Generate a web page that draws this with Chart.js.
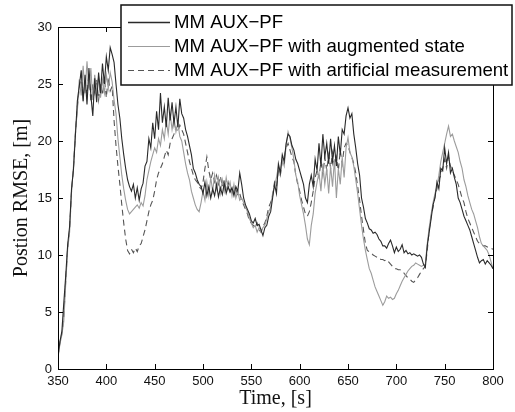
<!DOCTYPE html>
<html>
<head>
<meta charset="utf-8">
<script src="https://cdn.jsdelivr.net/npm/chart.js@4"></script>
<style>
  html, body { margin: 0; padding: 0; background: #fff; }
  #wrap { width: 515px; height: 412px; }
</style>
</head>
<body>
<div id="wrap"><canvas id="rmseChart" width="515" height="412"></canvas></div>
<script>
// time grid, 2 s step from 350 to 800
const times = Array.from({ length: 226 }, (_, i) => 350 + 2 * i);

// MM AUX−PF (dark solid)
const rmseBase = [
  1.2, 2.4, 3.3, 5.8, 8.2, 10.9, 12.5, 15.8, 17.5, 20.5,
  23.5, 24.8, 26.2, 23.5, 25.8, 23.2, 26.4, 24.0, 22.2, 25.5,
  23.4, 26.0, 24.2, 26.8, 25.0, 27.4, 26.2, 28.2, 27.6, 26.9,
  25.0, 23.2, 22.0, 20.2, 18.8, 17.6, 16.6, 16.0, 15.6, 16.2,
  15.0, 15.9, 14.8, 15.8, 16.3, 17.8, 18.2, 20.2, 19.4, 21.6,
  20.2, 22.6, 21.0, 24.2, 21.6, 23.0, 21.2, 23.8, 21.8, 23.4,
  21.5, 23.0, 21.2, 23.7, 22.4, 22.0, 21.0, 20.4, 19.6, 18.8,
  17.6, 17.2, 16.6, 16.2, 16.0, 15.4, 16.4, 15.2, 16.0, 15.0,
  15.8, 15.2, 16.2, 15.1, 15.9, 15.3, 16.3, 15.4, 16.0, 15.5,
  15.9, 15.2, 16.0, 15.6, 17.2, 16.2, 15.0, 14.4, 14.0, 13.6,
  13.0, 12.8, 13.2, 12.6, 12.7, 12.2, 11.7, 12.4, 12.6, 13.4,
  13.8, 15.0, 16.2, 15.4, 18.0, 17.2, 18.8, 18.2, 19.8, 20.6,
  20.4, 19.6, 19.2, 18.4, 18.0, 17.4, 16.8, 16.2, 15.0, 14.6,
  16.2, 17.0, 16.0, 18.4, 17.4, 19.8, 17.8, 20.6, 18.6, 19.8,
  18.0, 20.2, 18.2, 19.6, 17.8, 20.4, 18.8, 21.0, 20.6, 22.2,
  22.9, 22.0, 22.4, 20.6, 19.4, 18.0, 17.0, 15.0, 14.2, 13.2,
  12.8, 12.3, 12.2, 11.9, 12.0, 11.8, 11.4, 11.2, 10.8, 10.8,
  10.6, 11.0, 11.3, 10.8, 10.2, 10.7, 10.3, 10.5, 10.9, 10.2,
  10.4, 10.1, 10.2, 10.0, 10.1, 10.0, 9.9, 10.0, 9.8, 9.2,
  8.9, 10.8, 12.0, 13.2, 14.4, 15.0, 16.4, 15.8, 17.6, 17.4,
  19.4, 18.0, 19.0, 17.2, 17.6, 16.8, 16.2, 15.0, 14.6, 14.0,
  13.4, 13.0, 12.6, 12.2, 11.6, 11.0, 10.4, 9.8, 9.3, 9.5,
  9.6, 9.2, 9.5, 9.3, 9.1, 8.8
];

// MM AUX−PF with augmented state (light grey solid)
const rmseAugmented = [
  1.0, 2.2, 3.0, 4.2, 7.5, 10.5, 12.0, 15.5, 17.8, 20.8,
  22.6, 25.4, 24.0, 26.6, 24.2, 27.0, 24.6, 26.4, 23.6, 25.8,
  24.4, 25.6, 23.8, 25.4, 24.2, 25.8, 24.6, 26.0, 25.2, 23.6,
  22.4, 20.2, 18.6, 17.0, 15.8, 14.8, 14.0, 13.6, 13.8, 14.0,
  14.2, 14.4, 14.1, 14.6, 14.3, 15.2, 16.6, 17.4, 18.2, 18.8,
  19.4, 19.0, 20.2, 19.6, 21.0, 20.2, 21.8, 20.6, 22.4, 21.0,
  22.0, 20.8, 21.6, 20.4, 20.0, 19.0, 18.0, 17.2, 16.6, 15.6,
  15.0, 14.4, 14.0, 13.8, 14.6, 15.6, 14.8, 16.4, 15.2, 16.8,
  15.6, 17.0, 15.8, 16.8, 15.4, 16.6, 15.6, 16.8, 15.8, 16.4,
  15.2, 16.2, 15.0, 15.6, 14.8, 15.0, 14.6, 14.2, 13.8, 13.2,
  12.8, 12.4, 12.6, 12.0, 12.4, 12.0, 12.4, 12.6, 13.2, 13.8,
  14.2, 15.4, 16.0, 16.8, 17.8, 17.0, 18.4, 17.8, 19.6, 20.8,
  20.2, 19.4, 18.4, 17.0, 16.4, 15.2, 14.4, 13.6, 12.6, 11.4,
  10.9, 12.6, 13.6, 15.4, 16.4, 17.2, 15.6, 18.0, 16.2, 17.6,
  15.4, 17.8, 16.0, 18.4, 15.0, 17.6, 16.2, 18.6, 16.8, 19.4,
  20.3, 19.0, 18.6, 17.8, 16.6, 15.4, 14.0, 12.6, 11.4, 10.4,
  9.6, 8.8, 8.4, 7.8, 7.2, 6.8, 6.4, 6.0, 5.6, 5.9,
  6.4, 6.2, 6.3, 6.1, 6.2, 6.6, 6.9, 7.3, 7.7, 8.0,
  8.3, 8.6, 8.8, 9.0, 9.1, 9.3, 9.2, 9.1, 9.0, 9.1,
  9.2, 11.0, 12.4, 13.6, 14.6, 15.4, 16.0, 17.0, 18.2, 19.0,
  19.8, 20.6, 21.3, 20.4, 20.6, 20.0, 19.5, 19.0, 18.2, 17.6,
  16.6, 16.0, 15.2, 14.6, 14.0, 13.6, 13.0, 12.4, 11.6, 11.0,
  10.8, 10.6, 10.4, 10.0, 9.4, 8.8
];

// MM AUX−PF with artificial measurement (dashed)
const rmseArtificial = [
  1.1, 2.3, 3.1, 4.6, 7.8, 10.6, 12.2, 15.6, 17.6, 20.6,
  23.0, 24.6, 25.8, 23.8, 25.2, 24.0, 26.0, 23.4, 25.0, 24.2,
  25.4, 23.6, 25.0, 24.0, 25.6, 23.8, 25.6, 24.4, 24.8, 21.8,
  19.6, 17.8, 16.2, 14.4, 12.8, 11.4, 10.4, 10.1, 10.5, 10.2,
  10.6, 10.3, 10.8, 11.0, 11.6, 12.2, 13.0, 13.8, 14.4, 14.8,
  15.6, 16.6, 17.2, 17.6, 18.0, 18.6, 19.2, 18.8, 19.8, 20.2,
  20.6, 21.2, 20.8, 21.4, 21.0, 20.6, 19.8, 19.0, 18.2, 17.6,
  17.0, 16.6, 16.4, 16.0, 15.8, 16.4, 17.6, 18.6, 17.4, 16.6,
  17.2, 16.4, 17.0, 16.2, 16.9, 16.0, 16.6, 15.8, 16.4, 15.6,
  16.0, 15.4, 15.8, 15.2, 15.4, 14.8, 14.4, 14.0, 13.6, 13.0,
  12.8, 12.6, 12.4, 12.8, 12.2, 12.0, 12.5, 12.8, 13.4, 14.2,
  14.6, 15.2, 16.4, 16.0, 17.4, 17.0, 18.2, 18.6, 19.4, 19.8,
  19.2, 18.6, 18.2, 17.0, 16.2, 15.6, 14.8, 14.2, 13.6, 13.4,
  13.8, 14.6, 15.6, 16.8, 17.4, 16.8, 18.2, 17.0, 18.6, 17.4,
  18.8, 17.6, 19.0, 17.8, 18.6, 17.4, 19.2, 18.0, 19.4, 19.8,
  19.6, 19.0, 18.6, 18.0, 17.2, 16.0, 14.8, 13.4, 12.2, 11.0,
  10.4, 10.3, 10.2, 10.0, 9.9, 9.8, 9.8, 9.6, 9.6, 9.5,
  9.6, 9.4, 9.2, 9.0, 8.8, 8.8, 8.7, 8.7, 8.6, 8.4,
  8.2, 8.0, 7.9, 7.7, 7.6, 7.8, 8.0, 8.3, 8.6, 8.8,
  9.0, 10.4, 12.2, 13.4, 14.2, 15.2, 15.8, 16.6, 17.0, 17.6,
  18.4, 17.6, 18.6, 17.8, 17.4, 17.0, 16.6, 16.2, 15.6, 15.0,
  14.6, 13.8, 13.2, 12.8, 12.4, 12.0, 11.6, 11.2, 11.0, 10.9,
  10.8, 10.8, 10.7, 10.7, 10.6, 10.5
];

const seriesLabels = [
  'MM AUX\u2212PF',
  'MM AUX\u2212PF with augmented state',
  'MM AUX\u2212PF with artificial measurement'
];
const seriesColors = ['#2a2a2a', '#9c9c9c', '#555555'];
const seriesDashes = [[], [], [6, 4]];

function toPoints(values) {
  return values.map((v, i) => ({ x: times[i], y: v }));
}

// box around plot with inward ticks (matlab style)
const boxPlugin = {
  id: 'boxPlugin',
  afterDatasetsDraw(chart) {
    const { ctx, chartArea: a, scales } = chart;
    ctx.save();
    ctx.strokeStyle = '#000';
    ctx.lineWidth = 1;
    ctx.strokeRect(Math.round(a.left) + 0.5, Math.round(a.top) + 0.5,
      Math.round(a.right - a.left), Math.round(a.bottom - a.top));
    const len = 5;
    ctx.beginPath();
    scales.x.ticks.forEach(t => {
      const px = Math.round(scales.x.getPixelForValue(t.value)) + 0.5;
      ctx.moveTo(px, a.bottom); ctx.lineTo(px, a.bottom - len);
      ctx.moveTo(px, a.top); ctx.lineTo(px, a.top + len);
    });
    scales.y.ticks.forEach(t => {
      const py = Math.round(scales.y.getPixelForValue(t.value)) + 0.5;
      ctx.moveTo(a.left, py); ctx.lineTo(a.left + len, py);
      ctx.moveTo(a.right, py); ctx.lineTo(a.right - len, py);
    });
    ctx.stroke();
    ctx.restore();
  }
};

// boxed legend sitting over the top right corner
const legendBoxPlugin = {
  id: 'legendBoxPlugin',
  afterDraw(chart) {
    const ctx = chart.ctx;
    const box = { x: 121, y: 5, w: 391, h: 80 };
    ctx.save();
    ctx.fillStyle = '#fff';
    ctx.fillRect(box.x, box.y, box.w, box.h);
    ctx.strokeStyle = '#111';
    ctx.lineWidth = 1.5;
    ctx.strokeRect(box.x, box.y, box.w, box.h);
    ctx.font = '18.6px "Liberation Sans", Arial, sans-serif';
    ctx.textBaseline = 'middle';
    ctx.fillStyle = '#000';
    const rows = [22, 46, 70];
    seriesLabels.forEach((lab, i) => {
      ctx.beginPath();
      ctx.strokeStyle = seriesColors[i];
      ctx.lineWidth = i === 0 ? 1.5 : 1.2;
      ctx.setLineDash(seriesDashes[i]);
      ctx.moveTo(128, rows[i] + 0.5);
      ctx.lineTo(170, rows[i] + 0.5);
      ctx.stroke();
      ctx.setLineDash([]);
      ctx.fillText(lab, 174, rows[i] + 1);
    });
    ctx.restore();
  }
};

const ctx = document.getElementById('rmseChart').getContext('2d');
new Chart(ctx, {
  type: 'line',
  data: {
    datasets: [rmseBase, rmseAugmented, rmseArtificial].map((vals, i) => ({
      label: seriesLabels[i],
      data: toPoints(vals),
      borderColor: seriesColors[i],
      borderWidth: 1.1,
      borderDash: seriesDashes[i],
      pointRadius: 0,
      tension: 0,
      fill: false
    }))
  },
  options: {
    responsive: false,
    animation: false,
    layout: { padding: { top: 27, right: 22, left: 0, bottom: 0 } },
    plugins: {
      legend: { display: false },
      tooltip: { enabled: false }
    },
    scales: {
      x: {
        type: 'linear',
        min: 350,
        max: 800,
        grid: { display: false, drawTicks: false },
        border: { display: false },
        ticks: {
          stepSize: 50,
          padding: 5,
          color: '#111',
          font: { family: '"Liberation Sans", Arial, sans-serif', size: 13 }
        },
        title: {
          display: true,
          text: 'Time, [s]',
          color: '#111',
          padding: { top: 0, bottom: 1 },
          font: { family: '"Liberation Serif", "Times New Roman", serif', size: 20 }
        },
        afterFit(scale) { scale.height = 43; }
      },
      y: {
        min: 0,
        max: 30,
        grid: { display: false, drawTicks: false },
        border: { display: false },
        ticks: {
          stepSize: 5,
          padding: 6,
          color: '#111',
          font: { family: '"Liberation Sans", Arial, sans-serif', size: 13 }
        },
        title: {
          display: true,
          text: 'Postion RMSE, [m]',
          color: '#111',
          padding: { top: 10, bottom: 0 },
          font: { family: '"Liberation Serif", "Times New Roman", serif', size: 20 }
        },
        afterFit(scale) { scale.width = 58; }
      }
    }
  },
  plugins: [boxPlugin, legendBoxPlugin]
});
</script>
</body>
</html>
